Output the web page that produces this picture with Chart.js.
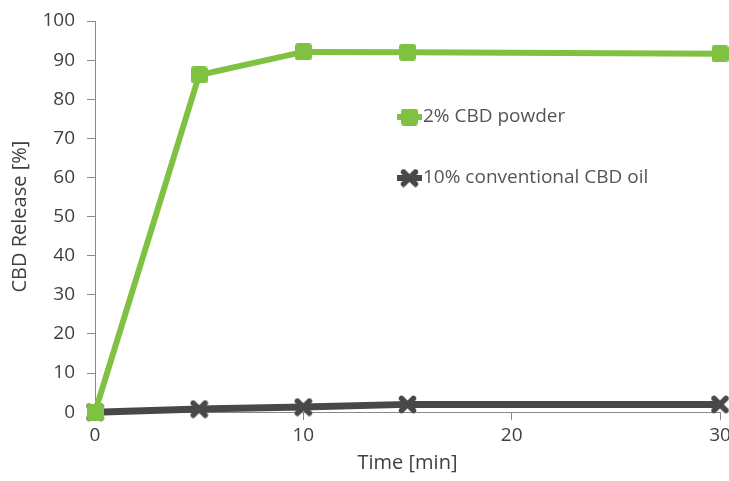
<!DOCTYPE html>
<html>
<head>
<meta charset="utf-8">
<script src="https://cdn.jsdelivr.net/npm/chart.js@4"></script>
<style>
  html, body { margin: 0; padding: 0; background: #fff; }
  #wrap { width: 729px; height: 481px; }
</style>
</head>
<body>
<div id="wrap"><canvas id="chart" width="729" height="481"></canvas></div>
<script>
const times = [0, 5, 10, 15, 30];
const powder = [0, 86.2, 92.1, 92, 91.6];
const oil = [0, 0.8, 1.3, 2, 2];
const xTicks = [0, 10, 20, 30];
const seriesNames = ['2% CBD powder', '10% conventional CBD oil'];

const green = '#7fc241';
const dark = '#484848';
const textCol = '#404040';
const font = '"Open Sans", sans-serif';

// marker images
function squareMarker(size, col) {
  const c = document.createElement('canvas');
  c.width = size; c.height = size;
  const g = c.getContext('2d');
  g.fillStyle = col;
  g.beginPath();
  g.roundRect(0, 0, size, size, 3);
  g.fill();
  return c;
}

function crossMarker(size, col) {
  const c = document.createElement('canvas');
  c.width = size; c.height = size;
  const g = c.getContext('2d');
  g.strokeStyle = col;
  g.lineWidth = 5.5;
  g.lineCap = 'round';
  const m = 3.5;
  g.beginPath();
  g.moveTo(m, m); g.lineTo(size - m, size - m);
  g.moveTo(size - m, m); g.lineTo(m, size - m);
  g.stroke();
  return c;
}

const sq = squareMarker(17, green);
const cr = crossMarker(19, dark);

function pts(ys) {
  return times.map((t, i) => ({ x: t, y: ys[i] }));
}

// legend drawn inside the plot, one row per series
const innerLegend = {
  id: 'innerLegend',
  afterDraw(chart) {
    const ctx = chart.ctx;
    const rows = [{ x: 397, y: 117 }, { x: 397, y: 178 }];
    chart.data.datasets.forEach((ds, i) => {
      const r = rows[i];
      const img = ds.pointStyle;
      ctx.save();
      ctx.strokeStyle = ds.borderColor;
      ctx.lineWidth = 6;
      ctx.beginPath();
      ctx.moveTo(r.x, r.y);
      ctx.lineTo(r.x + 25, r.y);
      ctx.stroke();
      ctx.drawImage(img, r.x + 12.5 - img.width / 2, r.y - img.height / 2);
      ctx.fillStyle = '#555';
      ctx.font = '19px ' + font;
      ctx.textBaseline = 'middle';
      ctx.fillText(ds.label, r.x + 26, r.y);
      ctx.restore();
    });
  }
};

new Chart(document.getElementById('chart'), {
  type: 'line',
  data: {
    datasets: [
      {
        label: seriesNames[0],
        data: pts(powder),
        borderColor: green,
        backgroundColor: green,
        borderWidth: 6,
        pointStyle: sq,
        pointRadius: 9,
        tension: 0,
        clip: false
      },
      {
        label: seriesNames[1],
        data: pts(oil),
        borderColor: dark,
        backgroundColor: dark,
        borderWidth: 7,
        pointStyle: cr,
        pointRadius: 9,
        tension: 0,
        clip: false
      }
    ]
  },
  options: {
    responsive: false,
    animation: false,
    layout: {
      autoPadding: false,
      padding: { top: 21, right: 9, left: 8, bottom: 0 }
    },
    plugins: {
      legend: { display: false },
      tooltip: { enabled: false }
    },
    scales: {
      x: {
        type: 'linear',
        min: 0,
        max: 30,
        afterBuildTicks(scale) {
          scale.ticks = xTicks.map(v => ({ value: v }));
        },
        // let the "30" label run off the edge like the original
        afterFit(scale) { scale.paddingRight = 0; },
        grid: {
          display: true,
          drawOnChartArea: false,
          drawTicks: true,
          tickLength: 8,
          color: '#888'
        },
        border: { display: true, color: '#888', width: 1 },
        ticks: {
          color: textCol,
          font: { family: font, size: 19 },
          padding: 4,
          maxRotation: 0
        },
        title: {
          display: true,
          text: 'Time [min]',
          color: textCol,
          font: { family: font, size: 20 },
          padding: { top: 0, bottom: 6 }
        }
      },
      y: {
        min: 0,
        max: 100,
        afterFit(scale) { scale.width = 87; scale.paddingTop = 0; },
        grid: {
          display: true,
          drawOnChartArea: false,
          drawTicks: true,
          tickLength: 8,
          color: '#888'
        },
        border: { display: true, color: '#888', width: 1 },
        ticks: {
          stepSize: 10,
          color: textCol,
          font: { family: font, size: 19 },
          padding: 12
        },
        title: {
          display: true,
          text: 'CBD Release [%]',
          color: textCol,
          font: { family: font, size: 20 },
          padding: { top: 0, bottom: 0 }
        }
      }
    }
  },
  plugins: [innerLegend]
});
</script>
</body>
</html>
